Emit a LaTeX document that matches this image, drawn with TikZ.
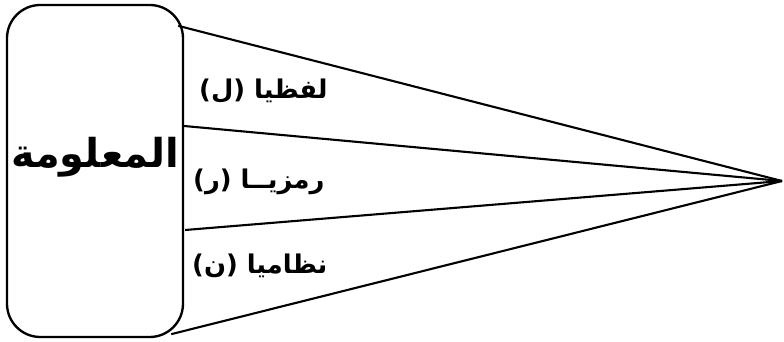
\documentclass[tikz,border=0pt]{standalone}
\usepackage{fontspec}
\usepackage{tikz}
\usetikzlibrary{calc}
\TeXXeTstate=1
\newfontfamily\arabicfont[Script=Arabic]{DejaVu Sans}

\begin{document}
\begin{tikzpicture}[
 x=0.03cm, y=-0.03cm,
 infobox/.style={draw,line width=2pt,rounded corners=1cm,minimum width=5.28cm,minimum height=9.96cm,inner sep=0pt},
 ray/.style={line width=1.8pt},
 kind/.style={anchor=west,inner sep=0pt,font=\arabicfont\bfseries\fontsize{22}{26}\selectfont}
]
\useasboundingbox (0,0) rectangle (784,342);
\node[infobox] (info) at (95,171) {};
\node[inner sep=0pt,font=\arabicfont\bfseries\fontsize{34}{40}\selectfont] (title) at ($(info.center)+(0,-14)$) {\beginR المعلومة\endR};
\coordinate (apex) at (782,181);
\coordinate (t1) at ($(info.north east)+(-6,22)$);
\coordinate (t2) at ($(info.east)+(0,-45)$);
\coordinate (t3) at ($(info.east)+(1,59)$);
\coordinate (t4) at ($(info.south east)+(-13,-4)$);
\foreach \p in {t1,t2,t3,t4}
 \draw[ray] (\p) -- (apex);
\node[kind] (lafz) at (199,91) {\beginR لفظيا (ل)\endR};
\node[kind] (ramz) at (193,182) {\beginR رمزيــا (ر)\endR};
\node[kind] (nizam) at (192,266) {\beginR نظاميا (ن)\endR};
\end{tikzpicture}
\end{document}
